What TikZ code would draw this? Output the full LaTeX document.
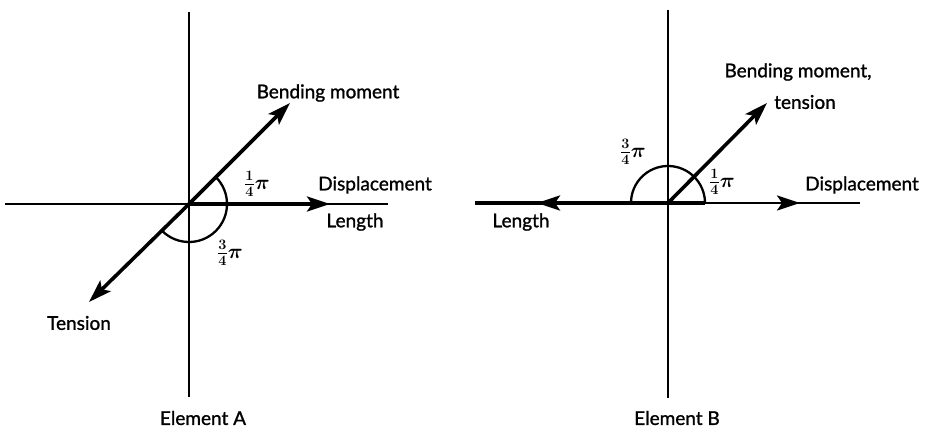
\documentclass[tikz,border=0pt]{standalone}
\usepackage{fontspec}
\setmainfont{Lato}[FakeBold=1.2]
\usetikzlibrary{arrows.meta,calc}
\begin{document}
\begin{tikzpicture}[x=1pt,y=1pt,
  axis/.style={line width=1.7pt},
  vec/.style={line width=3.6pt},
  mid/.style={line width=2.3pt},
  tip/.style={-{Stealth[length=23pt,width=15pt,inset=5pt]}},
  lab/.style={font=\fontsize{19}{21}\selectfont, inner sep=0pt},
  frac/.style={font=\fontsize{20}{20}\selectfont\boldmath, inner sep=0pt}]
\useasboundingbox (0,0) rectangle (927,431);
% ---------- Element A ----------
\coordinate (OA) at (189,227);
\coordinate (AT) at (189,419);
\coordinate (AB) at (189,34);
\coordinate (AL) at (5,227);
\coordinate (AR) at (388,227);
\coordinate (AD) at (330,227);
\coordinate (AM) at (290,328);
\coordinate (AN) at (89,129);
\draw[axis] (AT) -- (AB);
\draw[axis] (AL) -- (AR);
\draw[vec,tip] (OA) -- (AD);
\draw[vec,tip] (OA) -- (AM);
\draw[vec,tip] (OA) -- (AN);
\draw[mid] ($(OA)+(45:38)$) arc[start angle=45,end angle=-135,radius=38];
\node[lab] (bmA) at (328,338) {Bending moment};
\node[lab] (dA) at (375,246) {Displacement};
\node[lab] (lA) at (355,209) {Length};
\node[frac] (qA) at (257,247) {$\frac{1}{4}\pi$};
\node[frac] (tqA) at (230,178) {$\frac{3}{4}\pi$};
\node[lab] (tA) at (79,108) {Tension};
\node[lab] (eA) at (203,13) {Element A};
% ---------- Element B ----------
\coordinate (OB) at (668,228);
\coordinate (BT) at (668,421);
\coordinate (BB) at (668,33);
\coordinate (BL) at (475,228);
\coordinate (BLt) at (537,228);
\coordinate (BR) at (860,228);
\coordinate (BRt) at (800,228);
\coordinate (BRs) at (705,228);
\coordinate (BM) at (767,328);
\draw[axis] (BT) -- (BB);
\draw[mid] (BRs) -- (BR);
\draw[mid,tip] (BRs) -- (BRt);
\draw[vec] (OB) -- (BRs);
\draw[vec] (OB) -- (BL);
\draw[vec,tip] (OB) -- (BLt);
\draw[vec,tip] (OB) -- (BM);
\draw[mid] ($(OB)+(37,0)$) arc[start angle=0,end angle=180,radius=37];
\node[lab] (bmB) at (798,359) {Bending moment,};
\node[lab] (tB) at (805,329) {tension};
\node[frac] (tqB) at (633,279) {$\frac{3}{4}\pi$};
\node[frac] (qB) at (722,249) {$\frac{1}{4}\pi$};
\node[lab] (dB) at (862,246) {Displacement};
\node[lab] (lB) at (521,209) {Length};
\node[lab] (eB) at (677,13) {Element B};
\end{tikzpicture}
\end{document}
